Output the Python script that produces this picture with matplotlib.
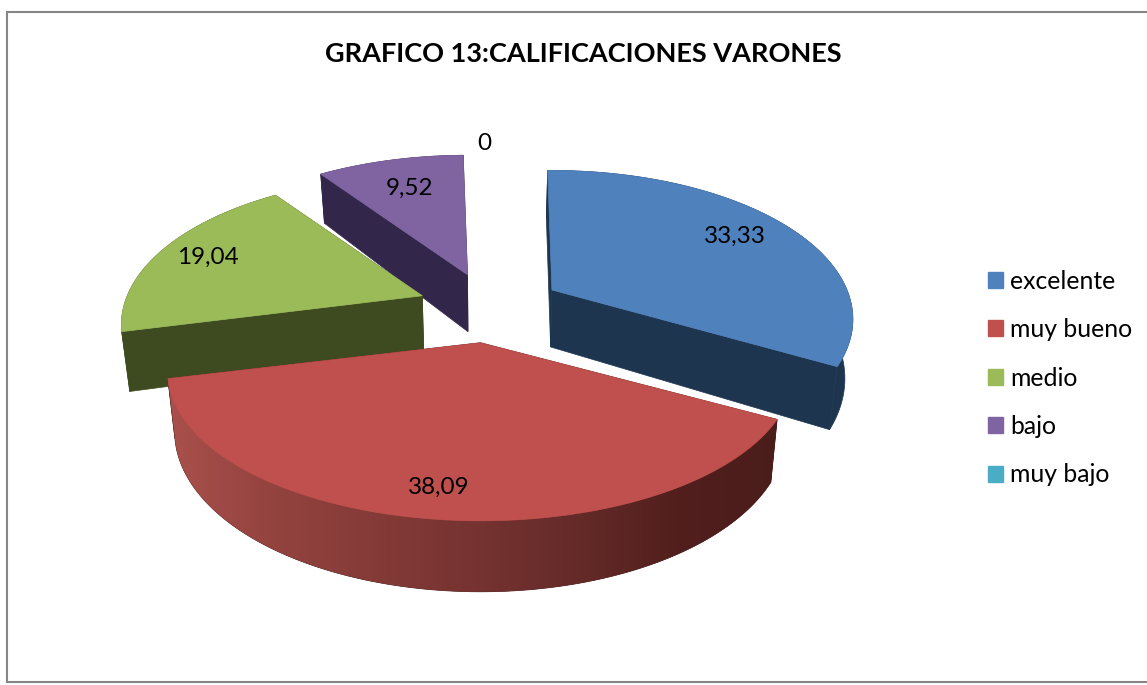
"""Grafico 13: exploded 3D-look pie of calificaciones varones."""
import matplotlib
matplotlib.use("Agg")
import matplotlib.pyplot as plt
import numpy as np
from matplotlib.colors import LinearSegmentedColormap
from matplotlib.patches import Patch, Polygon, Rectangle

TITLE = "GRAFICO 13:CALIFICACIONES VARONES"
CATEGORIES = ["excelente", "muy bueno", "medio", "bajo", "muy bajo"]
VALUES = [33.33, 38.09, 19.04, 9.52, 0]
LABELS = ["33,33", "38,09", "19,04", "9,52", "0"]

TOP_COLORS = ["#4F81BD", "#C0504D", "#9BBB59", "#8064A2", "#4BACC6"]
SIDE_COLORS = ["#1E3550", "#4A1D1B", "#3E4A20", "#32274A", "#1E4A55"]
RED_WALL = ["#A9504C", "#94433F", "#853B38", "#763331", "#652B29", "#521F1D", "#4A1D1B"]

START_ANGLE = 91.0
CX, CY = 490.0, 308.0
RX, RY = 295.0, 143.0
PERSP = 0.197
DEPTH = 57.0
CONVERGE = 0.022
EXPLODE = 0.245
WIDEN = [1.0, 1.04, 1.0, 1.0, 1.0]  # front slice sits nearer the viewer
LABEL_R = [0.78, 0.85, 0.82, 0.72, 1.10]


def project(x, y, ox, oy, depth=0.0, widen=1.0):
    # perspective on the slice itself, explode offset is added flat
    w = 1 + PERSP * y
    px = CX + RX * ox + widen * RX * x / w
    py = CY - RY * oy - RY * y / w + depth / w
    return px + (CX - px) * CONVERGE * (depth / DEPTH), py


fig = plt.figure(figsize=(11.47, 6.85), dpi=100)
ax = fig.add_axes([0, 0, 1, 1])
ax.axis("off")
plt.rcParams["font.family"] = ["Lato", "DejaVu Sans"]

ax.add_patch(Rectangle((6.8, 11.5), 1145, 670.5, fc="white", ec="#868686", lw=1.5, zorder=0))

fracs = np.array(VALUES) / sum(VALUES)
ends = START_ANGLE - np.cumsum(fracs) * 360
starts = np.r_[START_ANGLE, ends[:-1]]
mids = np.radians((starts + ends) / 2)

# painter's order: back slices first, red one in front
z = 1
for i in [3, 2, 0, 1]:
    ox, oy = EXPLODE * np.cos(mids[i]), EXPLODE * np.sin(mids[i])
    t = np.radians(np.linspace(starts[i], ends[i], 200))
    xs, ys = np.cos(t), np.sin(t)
    apex_top = project(0, 0, ox, oy)
    apex_bot = project(0, 0, ox, oy, DEPTH)

    for xe, ye in [(xs[0], ys[0]), (xs[-1], ys[-1])]:
        a = project(xe, ye, ox, oy, widen=WIDEN[i])
        b = project(xe, ye, ox, oy, DEPTH, WIDEN[i])
        ax.add_patch(Polygon([apex_top, a, b, apex_bot], fc=SIDE_COLORS[i], ec=SIDE_COLORS[i],
                             lw=0.5, zorder=z))
        z += 1

    tx, ty = project(xs, ys, ox, oy, widen=WIDEN[i])
    bx, by = project(xs, ys, ox, oy, DEPTH, WIDEN[i])
    wall = np.vstack([np.column_stack([tx, ty]), np.column_stack([bx, by])[::-1]])
    wall_patch = Polygon(wall, fc=SIDE_COLORS[i], ec=SIDE_COLORS[i], lw=0.5, zorder=z)
    ax.add_patch(wall_patch)
    z += 1
    if i == 1:
        # red wall carries a left-to-right shading
        cmap = LinearSegmentedColormap.from_list("redwall", RED_WALL[::-1])
        grad = np.linspace(1, 0, 256).reshape(1, -1)
        im = ax.imshow(grad, cmap=cmap, extent=(wall[:, 0].min(), wall[:, 0].max(), wall[:, 1].max(),
                                                wall[:, 1].min()), aspect="auto", zorder=z)
        im.set_clip_path(wall_patch)
        z += 1

    top = np.vstack([[apex_top], np.column_stack([tx, ty])])
    ax.add_patch(Polygon(top, fc=TOP_COLORS[i], ec=TOP_COLORS[i], lw=0.5, zorder=z))
    z += 1

ax.set_xlim(0, 1147)
ax.set_ylim(685, 0)

for i, lab in enumerate(LABELS):
    ox, oy = EXPLODE * np.cos(mids[i]), EXPLODE * np.sin(mids[i])
    lx, ly = project(LABEL_R[i] * np.cos(mids[i]), LABEL_R[i] * np.sin(mids[i]), ox, oy, widen=WIDEN[i])
    ax.text(lx, ly, lab, ha="center", va="center", fontsize=17.5, color="black", zorder=z)

ax.text(583, 54, TITLE, ha="center", va="center", fontsize=19.5, fontweight="bold", color="black")

handles = [Patch(fc=c, ec=c) for c in TOP_COLORS]
ax.legend(handles, CATEGORIES, loc="center left", bbox_to_anchor=(988 / 1147, 1 - 378 / 685),
          frameon=False, fontsize=17.8, handlelength=0.6, handleheight=0.6,
          handletextpad=0.3, labelspacing=1.03, borderpad=0, borderaxespad=0)

fig.savefig("out.png", dpi=100)
plt.close(fig)
